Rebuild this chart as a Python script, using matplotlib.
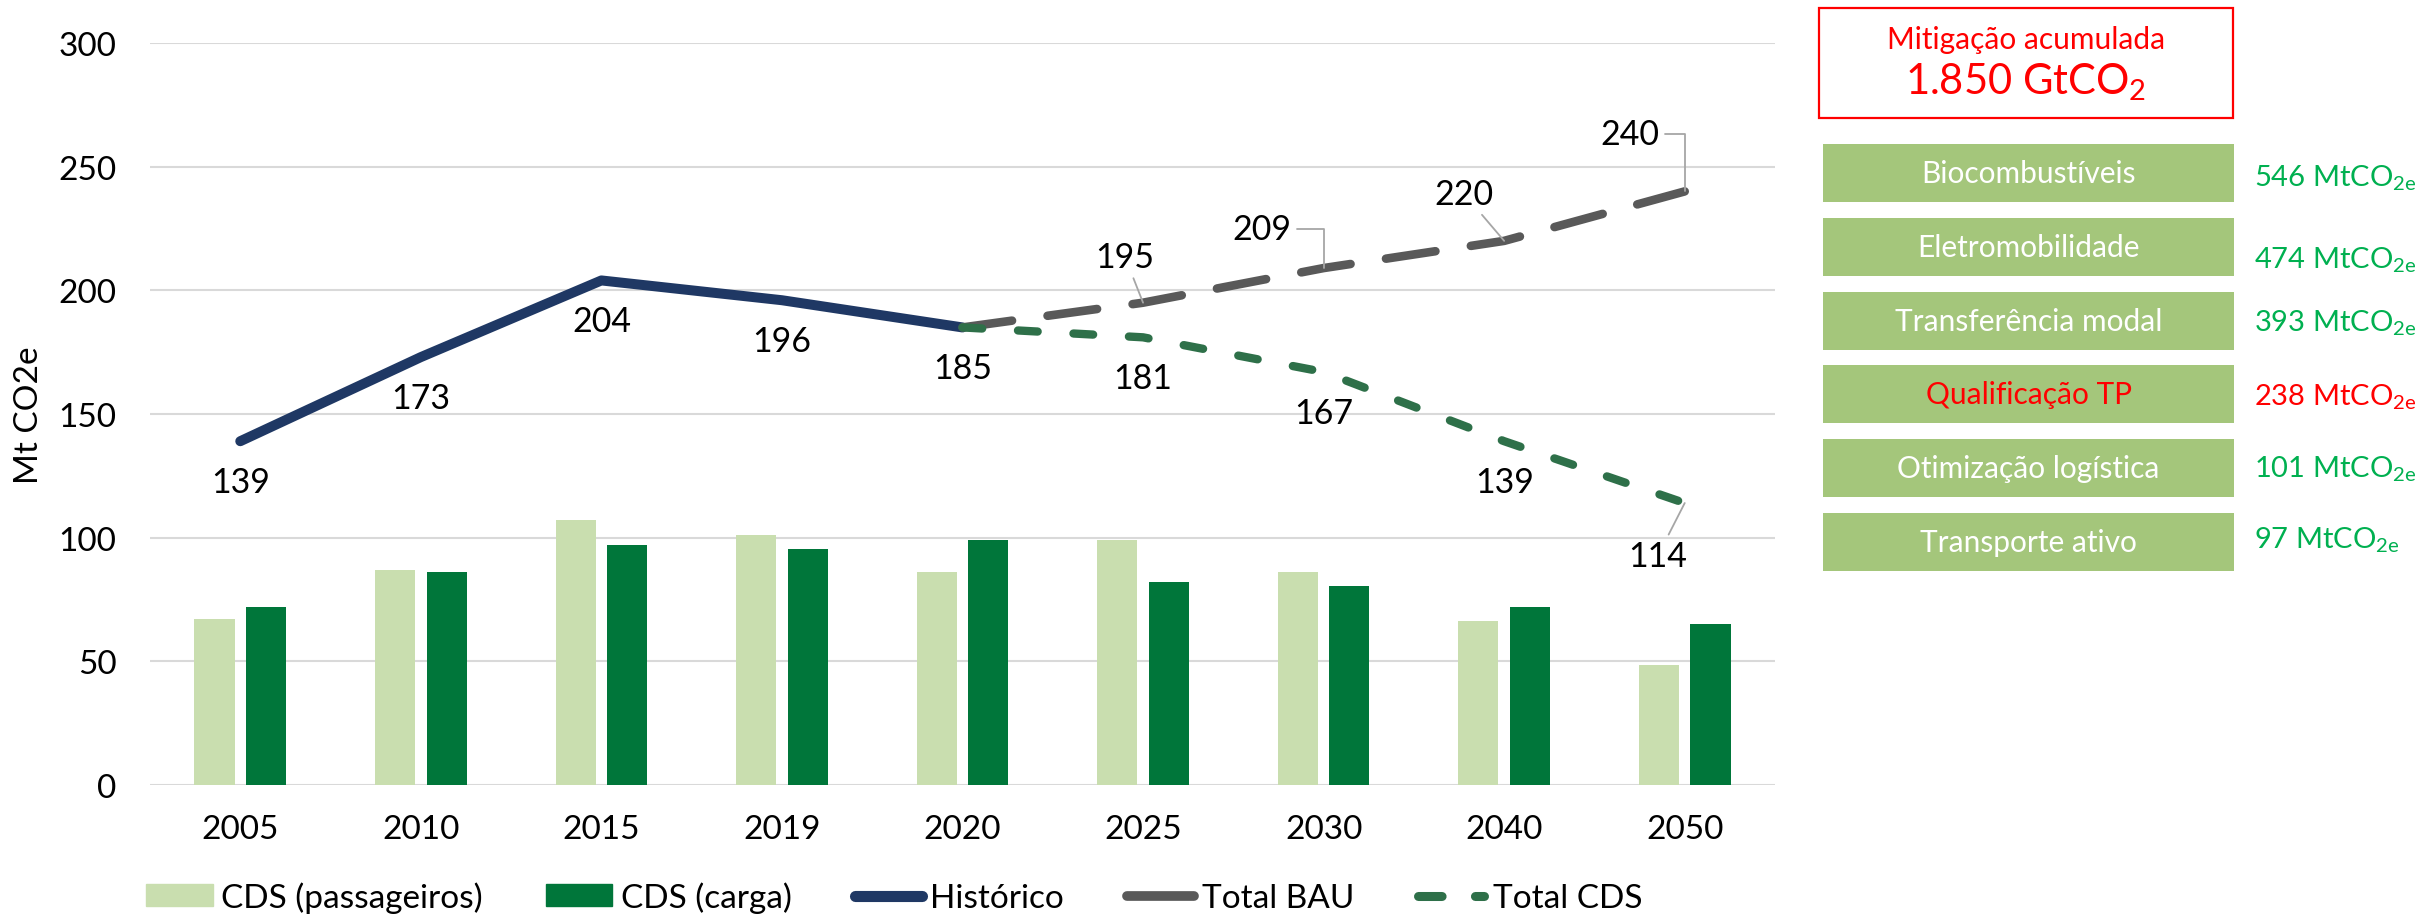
import matplotlib
matplotlib.use('Agg')
import matplotlib.pyplot as plt
from matplotlib.patches import Rectangle, Patch
from matplotlib.lines import Line2D
import numpy as np

# ---------------- data ----------------
years = ['2005', '2010', '2015', '2019', '2020', '2025', '2030', '2040', '2050']
cds_passageiros = [67, 87, 107, 101, 86, 99, 86, 66.5, 48.5]
cds_carga = [72, 86, 97, 95.5, 99, 82, 80.5, 72, 65]
historico = [139, 173, 204, 196, 185]        # 2005 .. 2020
total_bau = [185, 195, 209, 220, 240]        # 2020 .. 2050
total_cds = [185, 181, 167, 139, 114]        # 2020 .. 2050
y_ticks = [0, 50, 100, 150, 200, 250, 300]

medidas = ['Biocombustíveis', 'Eletromobilidade', 'Transferência modal',
           'Qualificação TP', 'Otimização logística', 'Transporte ativo']
mitigacao = [546, 474, 393, 238, 101, 97]
destaque = [False, False, False, True, False, False]
mitigacao_total = '1.850'

# ---------------- style ----------------
FONT = ['Lato', 'DejaVu Sans']
plt.rcParams['font.family'] = FONT
plt.rcParams['mathtext.fontset'] = 'custom'
plt.rcParams['mathtext.rm'] = 'Lato'
plt.rcParams['mathtext.it'] = 'Lato:italic'
plt.rcParams['lines.scale_dashes'] = False

C_PASS = '#C9DEAF'
C_CARGA = '#00763A'
C_HIST = '#1F3864'
C_BAU = '#595959'
C_CDS = '#2E7049'
C_GRID = '#D9D9D9'
C_BOX = '#A4C67B'
C_VAL = '#00B050'
C_RED = '#FF0000'

W, H = 2425, 920
fig = plt.figure(figsize=(W / 100, H / 100), dpi=100)

# main axes in pixel layout
x0, x1 = 150, 1775
y_top, y_bot = 44, 786
ax = fig.add_axes([x0 / W, (H - y_bot) / H, (x1 - x0) / W, (y_bot - y_top) / H])

x = np.arange(len(years))
bw = 0.222
ax.bar(x - 0.143, cds_passageiros, width=bw, color=C_PASS, zorder=2)
ax.bar(x + 0.143, cds_carga, width=bw, color=C_CARGA, zorder=2)

hist_x = x[:len(historico)]
proj_x = x[len(historico) - 1:]
LW_H, LW_B, LW_C = 7.2, 6.2, 6.0
DASH_B = (36, 25.8)
DASH_C = (14.2, 25.8)
ax.plot(hist_x, historico, color=C_HIST, lw=LW_H, solid_capstyle='round',
        solid_joinstyle='round', zorder=3)
ax.plot(proj_x, total_bau, color=C_BAU, lw=LW_B, dashes=DASH_B,
        dash_capstyle='round', zorder=4)
ax.plot(proj_x, total_cds, color=C_CDS, lw=LW_C, dashes=DASH_C,
        dash_capstyle='round', zorder=5)

ax.set_xlim(-0.5, len(years) - 0.5)
ax.set_ylim(0, 300)
ax.set_yticks(y_ticks)
ax.set_xticks(x)
ax.set_xticklabels(years)
ax.tick_params(axis='both', length=0, labelsize=24, colors='black')
ax.tick_params(axis='y', pad=24)
ax.tick_params(axis='x', pad=21)
for s in ax.spines.values():
    s.set_visible(False)
ax.grid(axis='y', color=C_GRID, lw=1.5, zorder=0)
ax.set_axisbelow(True)
ax.set_ylabel('Mt CO2e', fontsize=24)
ax.yaxis.set_label_coords(-0.0655, 0.5)

LBL = 24.5
# historic labels: below points
for xi, v in zip(hist_x, historico):
    ax.annotate(str(v), (xi, v), xytext=(0, -29.5), textcoords='offset points',
                ha='center', va='center', fontsize=LBL, zorder=6)

leader = dict(arrowstyle='-', color='#A6A6A6', lw=1.3, shrinkA=2, shrinkB=0)
bau_off = [(-13, 33), (-44.6, 28), (-28.8, 33.8), (-39.6, 41)]
bau_conn = ['arc3', 'angle,angleA=0,angleB=90,rad=0', 'arc3',
            'angle,angleA=0,angleB=90,rad=0']
for xi, v, off, cs in zip(proj_x[1:], total_bau[1:], bau_off, bau_conn):
    ax.annotate(str(v), (xi, v), xytext=off, textcoords='offset points',
                ha='center', va='center', fontsize=LBL, zorder=6,
                arrowprops=dict(leader, connectionstyle=cs))

cds_off = [(0, -29.5), (0, -29.5), (0, -29.5), (-19.4, -38)]
for k, (xi, v, off) in enumerate(zip(proj_x[1:], total_cds[1:], cds_off)):
    kw = {}
    if k == len(cds_off) - 1:
        kw['arrowprops'] = dict(leader)
    ax.annotate(str(v), (xi, v), xytext=off, textcoords='offset points',
                ha='center', va='center', fontsize=LBL, zorder=6, **kw)

# legend
handles = [
    Patch(color=C_PASS, label='CDS (passageiros)'),
    Patch(color=C_CARGA, label='CDS (carga)'),
    Line2D([], [], color=C_HIST, lw=8, solid_capstyle='round', label='Histórico'),
    Line2D([], [], color=C_BAU, lw=7, solid_capstyle='round', label='Total BAU'),
    Line2D([], [], color=C_CDS, lw=6.5, dashes=(17, 24), dash_capstyle='round',
           label='Total CDS'),
]
fig.legend(handles=handles, loc='center', bbox_to_anchor=(0.3687, 0.024), ncol=5,
           frameon=False, fontsize=24, handlelength=2.0, handletextpad=0.25,
           columnspacing=1.9, handleheight=0.6)

# ---------------- right panel ----------------
pa = fig.add_axes([0, 0, 1, 1], facecolor='none')
pa.set_xlim(0, W)
pa.set_ylim(H, 0)
pa.axis('off')

pa.add_patch(Rectangle((1819, 9), 414, 110, fill=False, edgecolor=C_RED, lw=1.6))
pa.text(2026, 40, 'Mitigação acumulada', color=C_RED, fontsize=21.5,
        ha='center', va='center')
pa.text(2026, 82, mitigacao_total + ' GtCO$_2$', color=C_RED, fontsize=30,
        ha='center', va='center')

box_x, box_w, box_h = 1823, 411, 58
val_dy = [4, 12, 2, 2, 0, -3]
for i, (nome, val, red) in enumerate(zip(medidas, mitigacao, destaque)):
    top = 145 + i * 73.8
    pa.add_patch(Rectangle((box_x, top), box_w, box_h, color=C_BOX, lw=0))
    pa.text(box_x + box_w / 2, top + box_h / 2, nome,
            color=C_RED if red else 'white', fontsize=21.5, ha='center', va='center')
    pa.text(2254, top + box_h / 2 + val_dy[i], f'{val} MtCO$_{{\\mathrm{{2e}}}}$',
            color=C_RED if red else C_VAL, fontsize=21, ha='left', va='center')

fig.savefig('out.png', dpi=100)
